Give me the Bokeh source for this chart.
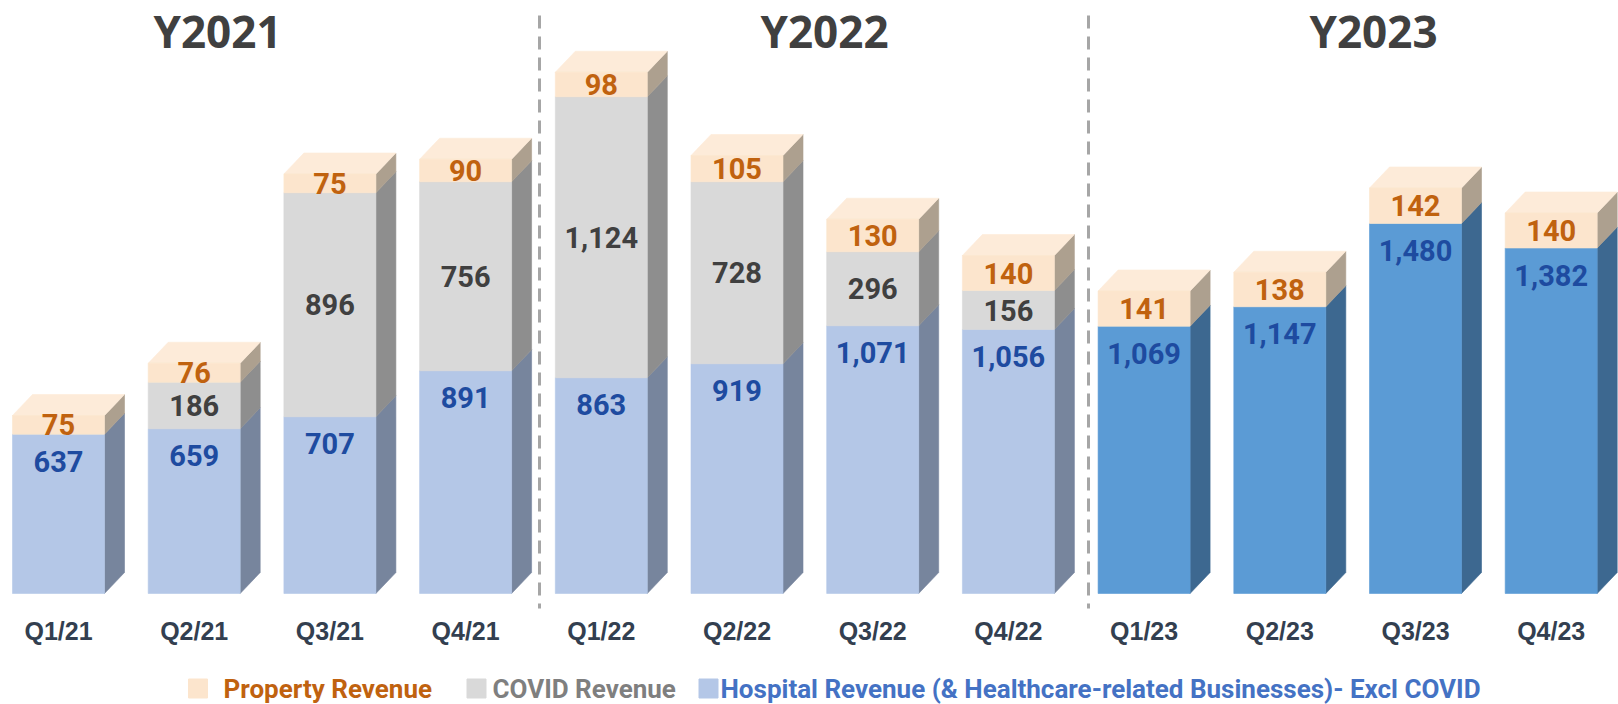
import numpy as np
from bokeh.plotting import figure
from bokeh.models import Range1d, ColumnDataSource
from bokeh.core.properties import value
from bokeh.embed import file_html
from bokeh.resources import INLINE

# ---------------- data ----------------
quarters = ["Q1/21", "Q2/21", "Q3/21", "Q4/21",
            "Q1/22", "Q2/22", "Q3/22", "Q4/22",
            "Q1/23", "Q2/23", "Q3/23", "Q4/23"]
hospital = [637, 659, 707, 891, 863, 919, 1071, 1056, 1069, 1147, 1480, 1382]
covid = [0, 186, 896, 756, 1124, 728, 296, 156, 0, 0, 0, 0]
prop = [75, 76, 75, 90, 98, 105, 130, 140, 141, 138, 142, 140]
years = ["Y2021", "Y2022", "Y2023"]
year_of_bar = [0, 0, 0, 0, 1, 1, 1, 1, 2, 2, 2, 2]
legend_labels = ["Property Revenue", "COVID Revenue",
                 "Hospital Revenue (& Healthcare-related Businesses)- Excl COVID"]

# ---------------- styling / geometry ----------------
W, H = 1618, 704
PX_X = 135.7          # px per category
X0 = -58 / PX_X
PX_Y = 0.25           # px per unit
Y_BASE_PX = 593       # baseline from top
y0 = -(H - Y_BASE_PX) / PX_Y
y1 = y0 + H / PX_Y

def sx(px):
    return px / PX_X + X0

def sy(py):
    return (Y_BASE_PX - py) / PX_Y

BW = 92 / PX_X        # front width
DX = 20 / PX_X        # depth x
DY = 21 / PX_Y        # depth y

HOSP_FRONT = ["#B4C7E7", "#B4C7E7", "#5B9BD5"]
HOSP_SIDE = ["#77859D", "#77859D", "#3D6890"]
COVID_FRONT, COVID_SIDE = "#D9D9D9", "#8E8E8E"
PROP_FRONT, PROP_SIDE, PROP_TOP = "#FCE5CD", "#ADA08F", "#FDEBD9"

PROP_TXT = "#C0620F"
COVID_TXT = "#404040"
HOSP_TXT = "#1E4BA0"

p = figure(width=W, height=H, output_backend="svg", toolbar_location=None,
           x_range=Range1d(X0, X0 + W / PX_X), y_range=Range1d(y0, y1),
           min_border=0, min_border_left=0, min_border_right=0,
           min_border_top=0, min_border_bottom=0)
p.axis.visible = False
p.xgrid.visible = False
p.ygrid.visible = False
p.outline_line_color = None
p.background_fill_color = "white"
p.border_fill_color = "white"

x = np.arange(len(quarters), dtype=float)
h = np.array(hospital, dtype=float)
c = np.array(covid, dtype=float)
pr = np.array(prop, dtype=float)
left = x - BW / 2
right = x + BW / 2

# segments: (bar, bottom, top, front color, side color)
segs = []
for i in range(len(x)):
    yi = year_of_bar[i]
    segs.append((i, 0.0, h[i], HOSP_FRONT[yi], HOSP_SIDE[yi]))
    if c[i] > 0:
        segs.append((i, h[i], h[i] + c[i], COVID_FRONT, COVID_SIDE))
    segs.append((i, h[i] + c[i], h[i] + c[i] + pr[i], PROP_FRONT, PROP_SIDE))

# side faces
side_xs, side_ys, side_col = [], [], []
for i, b, t, fc, sc in segs:
    r = right[i]
    side_xs.append([r, r + DX, r + DX, r])
    side_ys.append([b, b + DY, t + DY, t])
    side_col.append(sc)
p.patches(xs="xs", ys="ys", fill_color="c", line_color="c", line_width=0.6,
          source=ColumnDataSource(dict(xs=side_xs, ys=side_ys, c=side_col)))

# top faces
tot = h + c + pr
top_xs = [[left[i], left[i] + DX, right[i] + DX, right[i]] for i in range(len(x))]
top_ys = [[tot[i], tot[i] + DY, tot[i] + DY, tot[i]] for i in range(len(x))]
p.patches(xs=top_xs, ys=top_ys, fill_color=PROP_TOP, line_color=PROP_TOP, line_width=0.6)

# front faces
fl, fr, fb, ft, fcs = [], [], [], [], []
for i, b, t, fc, sc in segs:
    fl.append(left[i]); fr.append(right[i]); fb.append(b); ft.append(t); fcs.append(fc)
p.quad(left="l", right="r", bottom="b", top="t", fill_color="c", line_color="c", line_width=0.6,
       source=ColumnDataSource(dict(l=fl, r=fr, b=fb, t=ft, c=fcs)))

# ---------------- value labels ----------------
LBL_FONT = value("Roboto")
LBL_SIZE = "29px"

def fmt(v):
    return f"{int(v):,}"

p.text(x=x, y=h - 27 / PX_Y, text=[fmt(v) for v in h], text_align="center",
       text_baseline="middle", text_font=LBL_FONT, text_font_size=LBL_SIZE,
       text_font_style="bold", text_color=HOSP_TXT)
cm = c > 0
p.text(x=x[cm], y=(h + c / 2)[cm], text=[fmt(v) for v in c[cm]], text_align="center",
       text_baseline="middle", text_font=LBL_FONT, text_font_size=LBL_SIZE,
       text_font_style="bold", text_color=COVID_TXT)
p.text(x=x, y=h + c + pr / 2, text=[fmt(v) for v in pr], text_align="center",
       text_baseline="middle", text_font=LBL_FONT, text_font_size=LBL_SIZE,
       text_font_style="bold", text_color=PROP_TXT)

# category labels
p.text(x=x, y=[sy(630)] * len(x), text=quarters, text_align="center",
       text_baseline="middle", text_font=value("Liberation Sans"), text_font_size="25px",
       text_font_style="bold", text_color="#333F50")

# year titles
p.text(x=[sx(217), sx(824), sx(1373)], y=[sy(30)] * 3, text=years, text_align="center",
       text_baseline="middle", text_font=value("Open Sans"), text_font_size="44px",
       text_font_style="bold", text_color="#404040")

# dashed separators
for px in (539, 1088):
    p.line(x=[sx(px), sx(px)], y=[sy(15), sy(608)], line_color="#A6A6A6",
           line_width=3, line_dash="13 8")

# ---------------- legend ----------------
leg_sq_px = [197.5, 476, 708]
leg_txt_px = [223, 492, 720]
leg_sq_col = [PROP_FRONT, COVID_FRONT, HOSP_FRONT[0]]
leg_txt_col = [PROP_TXT, "#7F7F7F", "#4472C4"]
LEG_Y = sy(688)
p.scatter(x=[sx(v) for v in leg_sq_px], y=[LEG_Y] * 3, marker="square", size=19,
          fill_color=leg_sq_col, line_color=leg_sq_col)
for i in range(3):
    p.text(x=[sx(leg_txt_px[i])], y=[LEG_Y], text=[legend_labels[i]], text_align="left",
           text_baseline="middle", text_font=value("Roboto"), text_font_size="26px",
           text_font_style="bold", text_color=leg_txt_col[i])

open("out.html", "w").write(file_html(p, INLINE))
